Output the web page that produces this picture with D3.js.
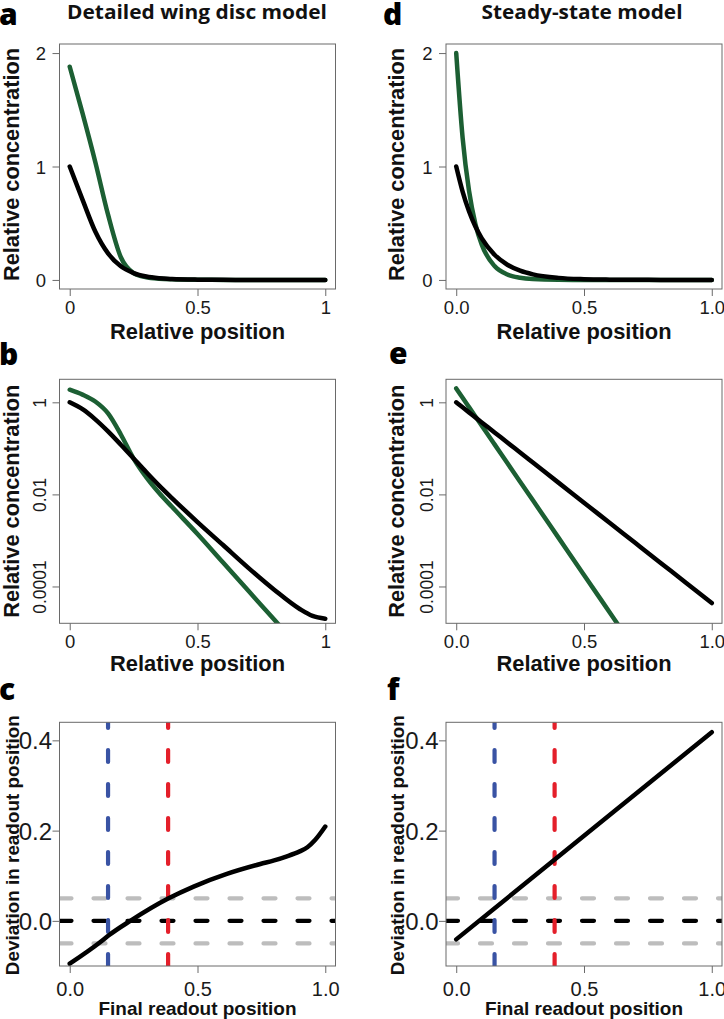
<!DOCTYPE html>
<html>
<head>
<meta charset="utf-8">
<script src="https://cdn.jsdelivr.net/npm/d3@7/dist/d3.min.js"></script>
<style>
  html, body { margin: 0; padding: 0; background: #fff; }
  svg { display: block; }
</style>
</head>
<body>
<svg id="chart" width="724" height="1019"></svg>
<script>
// ---------------- DATA ----------------
const columnTitles = ["Detailed wing disc model", "Steady-state model"];
const panelLetters = ["a", "b", "c", "d", "e", "f"];

// Detailed wing disc model: concentration profiles (relative position, relative concentration)
const posDetailed   = [0, 0.05, 0.1, 0.15, 0.2, 0.25, 0.3, 0.35, 0.4, 0.5, 0.6, 0.7, 0.8, 0.9, 0.95, 1.0];
const blackDetailed = [1, 0.708, 0.427, 0.234, 0.120, 0.0603, 0.0302, 0.0155, 0.00832, 0.00251, 0.000794, 0.000251, 0.0000851, 0.0000324, 0.0000229, 0.0000200];
const greenDetailed = [1.88, 1.47, 1.04, 0.575, 0.20, 0.060, 0.0234, 0.0107, 0.00537, 0.00138, 0.000331, 0.0000794, 0.0000191, 0.00000457, 0.00000224, 0.0000011];

// Steady-state model: concentration profiles
const posSteady   = [0, 0.025, 0.05, 0.075, 0.1, 0.15, 0.2, 0.25, 0.3, 0.4, 0.5, 0.6, 0.7, 0.8, 0.9, 1.0];
const blackSteady = [1, 0.778, 0.605, 0.471, 0.366, 0.222, 0.134, 0.0813, 0.0492, 0.0180, 0.00661, 0.00242, 0.000887, 0.000325, 0.000119, 0.0000437];
const greenSteady = [2, 1.254, 0.787, 0.494, 0.310, 0.122, 0.0480, 0.0189, 0.00743, 0.00115, 0.000178, 0.0000276, 0.00000428, 0.00000066, 0.0000001, 0.000000016];

// Deviation in readout position vs final readout position
const readoutDetailed = [0, 0.12, 0.153, 0.237, 0.387, 0.485, 0.615, 0.746, 0.8, 0.85, 0.9, 0.93, 0.96, 1.0];
const devDetailed     = [-0.095, -0.047, -0.032, 0.0, 0.05, 0.076, 0.104, 0.126, 0.134, 0.143, 0.154, 0.163, 0.179, 0.209];
const readoutSteady = [0, 1.0];
const devSteady     = [-0.041, 0.418];

// Reference lines
const greyLevels  = [0.05, -0.05];
const zeroLevel   = [0];
const blueMark    = [0.15];
const redMark     = [0.385];

// Tick values / labels
const xTickVals = [0, 0.5, 1];
const xTickLabelsShort = ["0", "0.5", "1"];
const xTickLabelsLong  = ["0.0", "0.5", "1.0"];
const yTickLinVals = [0, 1, 2];
const yTickLinLabels = ["0", "1", "2"];
const yTickLogVals = [1, 0.01, 0.0001];
const yTickLogLabels = ["1", "0.01", "0.0001"];
const yTickDevVals = [0, 0.2, 0.4];
const yTickDevLabels = ["0.0", "0.2", "0.4"];

// ---------------- STYLE / LAYOUT ----------------
const C = { green: "#1c5f33", black: "#000000", blue: "#3953a4", red: "#e41f2a", grey: "#bdbdbd", frame: "#6a6a6a" };
const cols = [{ x0: 59.5, x1: 335.5 }, { x0: 446, x1: 722 }];
const rows = [{ y0: 44, y1: 289 }, { y0: 379.3, y1: 623.3 }, { y0: 722.3, y1: 966 }];
const numFont = "'Liberation Sans', Arial, Helvetica, sans-serif";
const titleFont = "'Open Sans', 'Noto Sans', sans-serif";

const svg = d3.select("#chart");

function xScale(c) { return d3.scaleLinear().domain([-0.04, 1.04]).range([cols[c].x0, cols[c].x1]); }

function makePanel(c, r, id) {
  const g = svg.append("g");
  const { x0, x1 } = cols[c];
  const { y0, y1 } = rows[r];
  svg.append("clipPath").attr("id", id).append("rect")
    .attr("x", x0).attr("y", y0).attr("width", x1 - x0).attr("height", y1 - y0);
  const plot = g.append("g").attr("clip-path", `url(#${id})`);
  return { g, plot, x0, x1, y0, y1 };
}

function drawXAxis(p, x, labels, fontSize, baselineOff) {
  const ax = d3.axisBottom(x).tickValues(xTickVals).tickFormat((d, i) => labels[i]).tickSize(7).tickSizeOuter(0);
  const ag = p.g.append("g").attr("transform", `translate(0,${p.y1})`).call(ax);
  ag.select(".domain").remove();
  ag.selectAll(".tick line").attr("stroke", C.frame).attr("stroke-width", 1);
  ag.selectAll(".tick text").attr("y", baselineOff).attr("dy", 0)
    .attr("font-family", numFont).attr("font-size", fontSize).attr("fill", "#1a1a1a");
}

function drawYAxis(p, y, vals, labels, mode, fontSize, off) {
  const ax = d3.axisLeft(y).tickValues(vals).tickFormat((d, i) => labels[i]).tickSize(7).tickSizeOuter(0);
  const ag = p.g.append("g").attr("transform", `translate(${p.x0},0)`).call(ax);
  ag.select(".domain").remove();
  ag.selectAll(".tick line").attr("stroke", C.frame).attr("stroke-width", 1);
  const t = ag.selectAll(".tick text").attr("font-family", numFont).attr("font-size", fontSize).attr("fill", "#1a1a1a");
  if (mode === "rot") {
    t.attr("x", 0).attr("y", 0).attr("dy", 0).attr("text-anchor", "middle")
      .attr("transform", `translate(${off},0) rotate(-90)`);
  } else {
    t.attr("x", off).attr("dy", "0.36em").attr("text-anchor", "end");
  }
}

function drawFrame(p) {
  p.g.append("rect").attr("x", p.x0).attr("y", p.y0).attr("width", p.x1 - p.x0).attr("height", p.y1 - p.y0)
    .attr("fill", "none").attr("stroke", C.frame).attr("stroke-width", 1);
}

function curve(p, xs, ys, x, y, color, w, interp) {
  const pts = xs.map((d, i) => [d, ys[i]]);
  const line = d3.line().x(d => x(d[0])).y(d => y(d[1])).curve(interp || d3.curveMonotoneX);
  p.plot.append("path").attr("d", line(pts)).attr("fill", "none").attr("stroke", color)
    .attr("stroke-width", w).attr("stroke-linecap", "round").attr("stroke-linejoin", "round");
}

function yLabel(text, xBase, yc, size, len) {
  svg.append("text").attr("transform", `translate(${xBase},${yc}) rotate(-90)`)
    .attr("text-anchor", "middle").attr("font-family", numFont).attr("font-weight", "bold")
    .attr("font-size", size).attr("fill", "#111").attr("textLength", len).attr("lengthAdjust", "spacingAndGlyphs").text(text);
}
function xLabel(text, xc, yb, size, len) {
  svg.append("text").attr("x", xc).attr("y", yb)
    .attr("text-anchor", "middle").attr("font-family", numFont).attr("font-weight", "bold")
    .attr("font-size", size).attr("fill", "#111").attr("textLength", len).attr("lengthAdjust", "spacingAndGlyphs").text(text);
}

// ---------------- PANELS ----------------
const models = [
  { pos: posDetailed, black: blackDetailed, green: greenDetailed, xl: xTickLabelsShort, readout: readoutDetailed, dev: devDetailed, interpDev: d3.curveMonotoneX },
  { pos: posSteady, black: blackSteady, green: greenSteady, xl: xTickLabelsLong, readout: readoutSteady, dev: devSteady, interpDev: d3.curveLinear }
];

models.forEach((m, c) => {
  const x = xScale(c);
  const xc = (cols[c].x0 + cols[c].x1) / 2;

  // Row 1: linear concentration
  {
    const p = makePanel(c, 0, `clipA${c}`);
    const y = d3.scaleLinear().domain([-0.08, 2.08]).range([p.y1, p.y0]);
    curve(p, m.pos, m.green, x, y, C.green, 4.5);
    curve(p, m.pos, m.black, x, y, C.black, 4.5);
    drawFrame(p);
    drawXAxis(p, x, m.xl, 18.5, 25);
    drawYAxis(p, y, yTickLinVals, yTickLinLabels, "up", 18.5, -13.5);
  }
  // Row 2: log concentration
  {
    const p = makePanel(c, 1, `clipB${c}`);
    const y = d3.scaleLog().domain([Math.pow(10, -4.8), Math.pow(10, 0.5)]).range([p.y1, p.y0]);
    curve(p, m.pos, m.green, x, y, C.green, 4.5);
    curve(p, m.pos, m.black, x, y, C.black, 4.5);
    drawFrame(p);
    drawXAxis(p, x, m.xl, 18.5, 25);
    drawYAxis(p, y, yTickLogVals, yTickLogLabels, "rot", 17.5, -13.5);
  }
  // Row 3: deviation
  {
    const p = makePanel(c, 2, `clipC${c}`);
    const y = d3.scaleLinear().domain([-0.1, 0.44]).range([p.y1, p.y0]);
    const dashH = (lv, col) => p.plot.append("line")
      .attr("x1", p.x0).attr("x2", p.x1).attr("y1", y(lv)).attr("y2", y(lv))
      .attr("stroke", col).attr("stroke-width", 4.2).attr("stroke-dasharray", "12 22").attr("stroke-linecap", "round");
    const dashV = (v, col) => p.plot.append("line")
      .attr("x1", x(v)).attr("x2", x(v)).attr("y1", p.y1).attr("y2", p.y0)
      .attr("stroke", col).attr("stroke-width", 4.2).attr("stroke-dasharray", "12 22").attr("stroke-linecap", "round");
    greyLevels.forEach(lv => dashH(lv, C.grey));
    zeroLevel.forEach(lv => dashH(lv, C.black));
    blueMark.forEach(v => dashV(v, C.blue));
    redMark.forEach(v => dashV(v, C.red));
    curve(p, m.readout, m.dev, x, y, C.black, 4.5, m.interpDev);
    drawFrame(p);
    drawXAxis(p, x, xTickLabelsLong, 20, 29.5);
    drawYAxis(p, y, yTickDevVals, yTickDevLabels, "up", 24, -7.5);
  }

  // Axis titles
  const yBase = c === 0 ? 18.5 : 403.5;
  yLabel("Relative concentration", yBase, (rows[0].y0 + rows[0].y1) / 2 - 2, 21.5, 233);
  yLabel("Relative concentration", yBase, (rows[1].y0 + rows[1].y1) / 2, 21.5, 233);
  yLabel("Deviation in readout position", yBase, (rows[2].y0 + rows[2].y1) / 2 + 1, 19, 260);
  xLabel("Relative position", xc, 338.5, 21.5, 175);
  xLabel("Relative position", xc, 671, 21.5, 175);
  xLabel("Final readout position", xc, 1014.5, 19, 198);

  // Column title
  svg.append("text").attr("x", c === 0 ? 197 : 582).attr("y", 18.5)
    .attr("text-anchor", "middle").attr("font-family", titleFont).attr("font-weight", 700)
    .attr("font-size", 19).attr("fill", "#111")
    .attr("textLength", c === 0 ? 260 : 201).attr("lengthAdjust", "spacingAndGlyphs")
    .text(columnTitles[c]);
});

// Panel letters
const letterPos = [[-1, 25], [-1, 365], [-1, 700], [383, 25], [389, 363.5], [387, 700]];
panelLetters.forEach((L, i) => {
  svg.append("text").attr("x", letterPos[i][0]).attr("y", letterPos[i][1])
    .attr("font-family", titleFont).attr("font-weight", 800).attr("font-size", 30).attr("fill", "#000").text(L);
});
</script>
</body>
</html>
